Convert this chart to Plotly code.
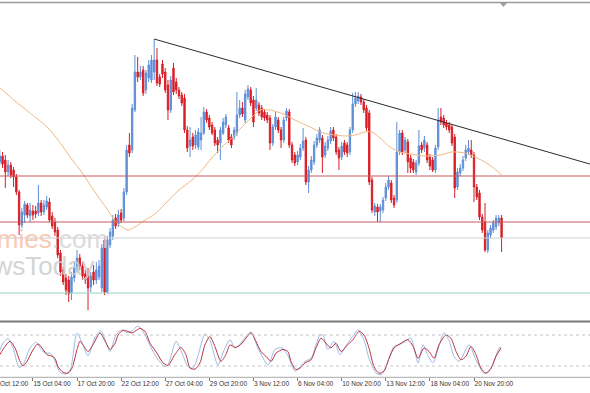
import plotly.graph_objects as go

# ---------------- data (prices stored in points above BASE) ----------------
BASE = 1.2000
PT = 0.0001

open_pts = [168,174,170,158,165,160,153,138,105,115,
            125,114,119,119,117,127,118,123,128,114,
            108,100,77,60,52,50,37,52,62,72,
            64,56,58,43,58,50,53,42,90,38,
            85,94,112,106,117,112,138,185,180,220,
            258,253,260,240,252,250,258,270,253,266,
            258,245,220,262,248,240,235,232,200,184,
            193,185,183,190,197,218,212,205,200,190,
            187,197,205,202,193,193,197,215,222,210,
            233,240,230,222,225,222,218,215,212,187,
            203,210,200,190,212,218,185,175,168,173,
            182,190,148,160,168,185,190,192,175,182,
            189,200,193,180,173,187,185,178,200,226,
            229,233,228,222,217,150,118,123,119,120,
            132,143,147,132,130,178,197,180,188,172,
            168,158,167,185,182,185,173,170,160,183,
            213,212,207,205,203,193,143,157,162,172,
            178,180,175,143,137,113,108,80,95,100,
            103,107,112]
high_pts = [180,178,175,170,168,163,156,140,122,129,
            127,127,125,124,145,130,130,134,132,118,
            112,103,80,63,56,54,58,68,80,76,
            68,60,62,58,65,68,70,86,94,94,
            102,115,116,120,121,142,185,197,226,275,
            273,264,264,260,270,275,291,282,256,270,
            262,250,254,267,252,243,238,236,204,203,
            197,200,202,213,223,221,215,208,203,193,
            203,212,216,205,196,203,238,230,228,240,
            245,243,234,242,228,225,221,218,215,206,
            218,213,203,213,222,221,188,178,179,186,
            202,193,164,174,189,196,203,195,188,194,
            203,203,196,183,188,190,188,203,237,238,
            238,236,231,225,220,153,127,126,126,133,
            147,154,150,135,208,200,200,193,191,175,
            171,170,200,188,194,188,176,173,185,222,
            222,215,210,208,206,196,162,166,174,185,
            190,190,178,146,140,116,127,100,105,110,
            115,115,115]
low_pts = [165,162,142,154,152,143,135,95,102,107,
           112,108,110,112,114,114,115,120,108,101,
           94,72,54,45,35,28,30,48,58,60,
           50,46,20,38,45,46,50,38,35,36,
           82,90,101,103,107,109,135,173,177,218,
           248,250,234,236,248,247,250,244,243,252,
           237,210,217,235,236,231,224,197,178,173,
           180,181,180,180,195,207,200,195,184,177,
           170,195,202,187,182,190,194,212,213,207,
           230,224,203,219,214,210,209,207,180,184,
           200,197,182,187,209,182,167,164,165,170,
           179,145,137,157,165,182,187,157,172,179,
           186,189,175,160,170,175,173,175,197,223,
           226,225,217,199,145,117,114,108,108,117,
           129,140,127,122,127,175,175,177,157,157,
           157,155,164,177,178,167,160,158,157,180,
           205,202,200,197,184,132,140,154,159,169,
           175,172,128,130,110,97,78,77,92,97,
           100,104,78]
close_pts = [174,166,158,165,155,153,138,105,118,126,
             115,120,115,116,127,118,125,129,110,104,
             98,75,58,48,40,36,53,62,72,64,
             54,50,42,54,50,60,64,82,38,90,
             98,110,104,115,110,138,180,177,222,258,
             253,258,237,257,265,270,270,247,246,256,
             240,220,250,238,240,234,227,200,182,190,
             184,195,198,197,218,210,203,197,187,185,
             200,208,213,190,185,200,215,222,216,236,
             241,227,208,230,217,213,212,210,187,203,
             213,200,190,210,219,185,170,167,175,182,
             189,148,160,170,185,192,200,173,184,190,
             199,192,178,172,184,178,177,200,226,232,
             234,228,220,202,148,120,124,118,123,130,
             143,150,130,125,178,197,178,190,168,162,
             160,167,184,180,190,170,164,160,182,210,
             208,205,203,200,187,142,158,162,170,180,
             182,175,143,133,113,100,80,97,102,107,
             112,112,92]

# moving average (bar index, points)
ma_idx = [0.1,5.5,11.0,17.5,21.1,25.5,30.2,34.5,38.9,41.8,44.3,46.5,49.0,52.7,56.3,59.9,
          64.6,69.7,73.3,76.9,80.6,84.2,87.8,91.5,94.4,98.0,102.7,107.8,112.5,117.2,121.6,
          125.2,128.8,132.5,135.0,137.9,141.5,145.2,148.8,154.2,159.7,164.0,168.7,172.4,177.1,182.1]
ma_pts = [242,229,217,202,190,173,156,138,121,109,103,100,103,110,116,126,
          139,150,160,172,183,192,203,213,220,220,216,209,203,197,195,
          194,195,198,198,192,183,178,176,174,175,178,177,173,166,155]

# horizontal levels and trendline (points)
res_levels = [154, 108]
grey_level = 92
teal_level = 37
trend_idx = [56, 214]
trend_pts = [291, 166]

# stochastic oscillator (%K blue, %D red)
k_idx = [0,1.2,3,4.8,7,8.4,11,13.1,15.3,16.8,18.2,20,21.8,23.6,25.5,28,30.2,32,34.5,36.7,38.9,40,
         42.1,44.3,46,48,49.8,50.8,52.7,55.2,57.4,59.9,61,63.9,65.7,68.3,70.1,71.9,74.4,76.2,79.1,
         81.3,83.5,85.3,87.5,91.1,93.6,97.3,99.8,102.4,104.5,107.1,109.2,110.7,112.9,116.1,117.2,
         119,121.2,123.4,125.9,127.7,129.9,132.1,133.9,136.5,138.3,140.1,143,144.8,146.6,149.1,
         151.7,153.5,155.3,157.1,161.1,162.9,164.7,166.6,170.2,172.7,175.6,177.4,179.3,181.1,181.8]
k_val = [50,65,73,55,17,22,55,66,50,45,45,30,8,4,12,84,60,40,75,88,60,48,
         80,90,85,88,97,95,80,52,32,19,22,68,50,19,16,40,82,70,22,
         50,71,55,65,86,55,22,52,55,40,10,20,29,35,80,80,
         52,68,42,62,75,90,70,35,6,3,20,58,61,66,74,
         26,61,40,26,84,70,39,29,61,32,6,9,30,55,57]
d_idx = [0,1.9,3.7,5.5,7.3,8.4,9.9,11.7,13.5,14.2,15.7,17.1,18.9,20,21.1,22.9,24.7,26.2,28,29.1,
         30.2,32,33.8,36.3,38.2,40,41.8,42.9,44.7,46.5,47.9,49.8,50.8,52.7,54.5,57,59.2,61,63.5,
         65.7,67.5,69,70.8,72.6,74.4,76.2,78,80.2,82,83.5,85.3,87.1,89.3,91.1,92.9,94.7,96.5,98.4,
         100.2,102.7,104.5,105.6,107.4,108.9,110.7,112.9,114.7,116.5,118.3,120.1,121.9,123.8,
         125.6,128.1,130.3,132.1,133.9,135.7,137.5,139.4,141.2,143,145.5,148,149.9,151.7,153.9,
         155.7,157.5,159.3,161.8,163.6,165.5,167.3,169.1,170.9,172.7,174.5,176.3,178.2,180,181.8]
d_val = [42,58,68,55,29,20,29,48,62,62,52,42,39,35,19,8,6,16,52,68,
         61,48,61,84,68,52,64,80,89,87,84,90,93,87,64,45,26,21,42,
         56,42,16,14,26,61,77,58,29,42,61,56,60,74,84,68,48,39,29,
         45,52,48,29,13,16,26,32,55,74,64,55,64,48,
         58,71,87,80,55,19,6,10,35,55,64,71,58,35,55,
         48,35,61,80,74,48,32,39,58,42,16,6,16,39,55]
stoch_levels = [80, 20]

tick_idx = [12, 28, 44, 60, 76, 92, 108, 124, 140, 156, 172]
tick_text = ["15 Oct 04:00", "17 Oct 20:00", "22 Oct 12:00", "27 Oct 04:00", "29 Oct 20:00",
             "3 Nov 12:00", "6 Nov 04:00", "10 Nov 20:00", "13 Nov 12:00", "18 Nov 04:00",
             "20 Nov 20:00"]
first_label = "10 Oct 12:00"

# ---------------- derived ----------------
p = lambda v: BASE + v * PT
bars = list(range(len(close_pts)))
o = [p(v) for v in open_pts]
h = [p(v) for v in high_pts]
l = [p(v) for v in low_pts]
c = [p(v) for v in close_pts]

W, H = 590, 393
PLOT_H = 377.0
XR = [0.07, 214.07]
YR = [p(9), p(327)]

BULL = "#5f8fd8"
BEAR = "#d81e26"
FONT = "Liberation Sans, Arial"

fig = go.Figure()
fig.add_trace(go.Scatter(x=ma_idx, y=[p(v) for v in ma_pts], mode="lines",
                         line=dict(color="#f2b880", width=1, shape="spline", smoothing=0.8),
                         xaxis="x", yaxis="y", hoverinfo="skip"))
fig.add_trace(go.Candlestick(x=bars, open=o, high=h, low=l, close=c,
                             increasing=dict(line=dict(color=BULL, width=1), fillcolor=BULL),
                             decreasing=dict(line=dict(color=BEAR, width=1), fillcolor=BEAR),
                             whiskerwidth=0, xaxis="x", yaxis="y"))
fig.add_trace(go.Scatter(x=k_idx, y=k_val, mode="lines",
                         line=dict(color="#9bbbe6", width=1, shape="spline", smoothing=0.7),
                         xaxis="x2", yaxis="y2"))
fig.add_trace(go.Scatter(x=d_idx, y=d_val, mode="lines",
                         line=dict(color="#b8323f", width=1, shape="spline", smoothing=0.7),
                         xaxis="x2", yaxis="y2"))

shapes = []
for lv in res_levels:
    shapes.append(dict(type="line", xref="x domain", yref="y", x0=0, x1=1, y0=p(lv), y1=p(lv),
                       line=dict(color="#c55a5f", width=1)))
shapes.append(dict(type="line", xref="x domain", yref="y", x0=0, x1=1, y0=p(grey_level), y1=p(grey_level),
                   line=dict(color="#cfcfcf", width=1)))
shapes.append(dict(type="line", xref="x domain", yref="y", x0=0, x1=1, y0=p(teal_level), y1=p(teal_level),
                   line=dict(color="#92d4c6", width=1)))
shapes.append(dict(type="line", xref="x", yref="y", x0=trend_idx[0], x1=trend_idx[1],
                   y0=p(trend_pts[0]), y1=p(trend_pts[1]), line=dict(color="#2b2b2b", width=1)))
for lv in stoch_levels:
    shapes.append(dict(type="line", xref="x2 domain", yref="y2", x0=0, x1=1, y0=lv, y1=lv,
                       line=dict(color="#c4c4c4", width=1, dash="dot")))
# frame lines
def py(pix):
    return 1 - pix / PLOT_H
shapes.append(dict(type="line", xref="paper", yref="paper", x0=0, x1=1, y0=py(2.5), y1=py(2.5),
                   line=dict(color="#9a9a9a", width=1.5)))
shapes.append(dict(type="line", xref="paper", yref="paper", x0=0, x1=1, y0=py(321.5), y1=py(321.5),
                   line=dict(color="#7a7a7a", width=2)))
shapes.append(dict(type="line", xref="paper", yref="paper", x0=0, x1=1, y0=py(377.3), y1=py(377.3),
                   line=dict(color="#a8a8a8", width=1)))
# chart-shift marker
shapes.append(dict(type="path", xref="paper", yref="paper",
                   path=f"M {500/W},{py(3)} L {507/W},{py(3)} L {503.5/W},{py(7)} Z",
                   fillcolor="#a0a0a0", line=dict(width=0)))

annotations = [
    dict(text='<span style="color:#f5c2aa">economies</span><span style="color:#d6d6d6">.com</span>',
         xref="paper", yref="paper", x=110 / W, y=py(239), xanchor="right", yanchor="middle",
         showarrow=False, font=dict(family=FONT, size=26), opacity=0.85),
    dict(text="FXNewsToday", xref="paper", yref="paper", x=97 / W, y=py(266), xanchor="right",
         yanchor="middle", showarrow=False, font=dict(family=FONT, size=26, color="#cdcdcd"),
         opacity=0.85),
    dict(text=first_label, xref="paper", yref="paper", x=-11.2 / W, y=py(383.5), xanchor="left",
         yanchor="middle", showarrow=False, font=dict(family=FONT, size=6.5, color="#333333")),
]

fig.update_layout(
    width=W, height=H, margin=dict(l=0, r=0, t=0, b=16, autoexpand=False),
    paper_bgcolor="white", plot_bgcolor="white", showlegend=False,
    xaxis=dict(domain=[0, 1], range=XR, anchor="y", showticklabels=False, showgrid=False,
               zeroline=False, rangeslider=dict(visible=False), automargin=False),
    yaxis=dict(domain=[py(321), py(3)], range=YR, showticklabels=False, showgrid=False,
               zeroline=False, automargin=False),
    xaxis2=dict(domain=[0, 1], range=XR, anchor="y2", matches="x", showgrid=False, zeroline=False,
                tickmode="array", tickvals=tick_idx, ticktext=tick_text, ticks="outside",
                ticklen=3, tickcolor="#777777", ticklabelposition="outside right", tickangle=0,
                automargin=False,
                tickfont=dict(family=FONT, size=6.5, color="#333333")),
    yaxis2=dict(domain=[0, py(323)], range=[-1.35, 103.3], showticklabels=False, showgrid=False,
                zeroline=False, automargin=False),
    shapes=shapes, annotations=annotations,
)

fig.write_html("out.html")
